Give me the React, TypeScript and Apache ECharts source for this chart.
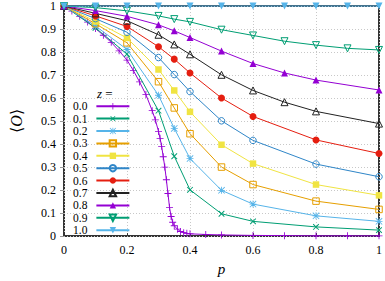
import React, { useEffect, useRef } from 'react';
import * as echarts from 'echarts';

const zLabels = ['0.0', '0.1', '0.2', '0.3', '0.4', '0.5', '0.6', '0.7', '0.8', '0.9', '1.0'];

const p00 = [0, 0.025, 0.05, 0.075, 0.1, 0.125, 0.15, 0.175, 0.2, 0.22, 0.24, 0.26, 0.28, 0.29, 0.3, 0.305, 0.31, 0.315, 0.32, 0.325, 0.33, 0.335, 0.34, 0.345, 0.35, 0.36, 0.37, 0.38, 0.39, 0.4, 0.45, 0.5, 0.6, 0.7, 0.8, 0.9, 1.0];
const v00 = [1, 0.978, 0.955, 0.93, 0.902, 0.873, 0.842, 0.805, 0.765, 0.72, 0.67, 0.615, 0.545, 0.505, 0.455, 0.425, 0.39, 0.345, 0.3, 0.245, 0.185, 0.125, 0.085, 0.06, 0.045, 0.03, 0.02, 0.015, 0.012, 0.01, 0.007, 0.005, 0.003, 0.002, 0.001, 0.001, 0.001];

const pA = [0, 0.1, 0.2, 0.3, 0.35, 0.4, 0.5, 0.6, 0.8, 1.0];
const v01 = [1, 0.905, 0.791, 0.545, 0.347, 0.201, 0.097, 0.064, 0.04, 0.026];
const v02 = [1, 0.913, 0.811, 0.612, 0.468, 0.337, 0.199, 0.139, 0.088, 0.064];
const v03 = [1, 0.923, 0.84, 0.671, 0.557, 0.445, 0.3, 0.224, 0.152, 0.116];
const v04 = [1, 0.933, 0.861, 0.724, 0.633, 0.54, 0.397, 0.315, 0.224, 0.177];
const v05 = [1, 0.945, 0.886, 0.776, 0.702, 0.628, 0.501, 0.416, 0.313, 0.258];
const v06 = [1, 0.957, 0.911, 0.823, 0.769, 0.709, 0.6, 0.52, 0.418, 0.359];

const pB = [0, 0.1, 0.2, 0.3, 0.35, 0.4, 0.5, 0.6, 0.7, 0.8, 1.0];
const v07 = [1, 0.968, 0.936, 0.875, 0.833, 0.79, 0.701, 0.633, 0.582, 0.542, 0.489];
const v08 = [1, 0.98, 0.955, 0.918, 0.892, 0.863, 0.804, 0.75, 0.709, 0.678, 0.635];

const pC = [0, 0.1, 0.2, 0.3, 0.35, 0.4, 0.5, 0.6, 0.7, 0.8, 0.9, 1.0];
const v09 = [1, 0.993, 0.979, 0.957, 0.943, 0.931, 0.897, 0.872, 0.847, 0.83, 0.816, 0.809];

const pD = [0, 0.1, 0.2, 0.3, 0.4, 0.5, 0.6, 0.7, 0.8, 0.9, 1.0];
const v10 = [1, 1, 1, 1, 1, 1, 1, 1, 1, 1, 1];

const seriesP = [p00, pA, pA, pA, pA, pA, pA, pB, pB, pC, pD];
const seriesV = [v00, v01, v02, v03, v04, v05, v06, v07, v08, v09, v10];

const colors = ['#9400d3', '#009e73', '#56b4e9', '#e69f00', '#f0e442', '#2f86c8', '#e51e10', '#222222', '#9400d3', '#009e73', '#56b4e9'];

const PLUS = 'path://M4.4,0H5.6V4.4H10V5.6H5.6V10H4.4V5.6H0V4.4H4.4Z';
const STAR = 'path://M4.4,0H5.6V4.4H10V5.6H5.6V10H4.4V5.6H0V4.4H4.4Z M0,0.85L0.85,0L10,9.15L9.15,10Z M10,0.85L0.85,10L0,9.15L9.15,0Z';

type Mk = { symbol: string; size: number; rotate: number; open: boolean };
const markers: Mk[] = [
  { symbol: PLUS, size: 7, rotate: 0, open: false },
  { symbol: PLUS, size: 8, rotate: 45, open: false },
  { symbol: STAR, size: 7, rotate: 0, open: false },
  { symbol: 'rect', size: 6.5, rotate: 0, open: true },
  { symbol: 'rect', size: 6.5, rotate: 0, open: false },
  { symbol: 'circle', size: 6.5, rotate: 0, open: true },
  { symbol: 'circle', size: 7, rotate: 0, open: false },
  { symbol: 'triangle', size: 7, rotate: 0, open: true },
  { symbol: 'triangle', size: 7, rotate: 0, open: false },
  { symbol: 'triangle', size: 7, rotate: 180, open: true },
  { symbol: 'triangle', size: 7, rotate: 180, open: false },
];

const FONT = 'Liberation Serif';

export default function App() {
  const ref = useRef<HTMLDivElement>(null);
  useEffect(() => {
    if (!ref.current) return;
    const chart = echarts.init(ref.current, null, { renderer: 'svg' });
    const series = zLabels.map((name, i) => {
      const m = markers[i];
      const c = colors[i];
      return {
        type: 'line',
        name,
        data: seriesP[i].map((p, k) => [p, seriesV[i][k]]),
        symbol: m.symbol,
        symbolSize: m.size,
        symbolRotate: m.rotate,
        showAllSymbol: true,
        clip: false,
        lineStyle: { color: c, width: 1 },
        itemStyle: m.open
          ? { color: 'rgba(255,255,255,0)', borderColor: c, borderWidth: 1 }
          : { color: c, borderWidth: 0 },
        emphasis: { disabled: true },
        z: 2 + i,
      };
    });
    chart.setOption({
      animation: false,
      grid: {
        left: 59,
        right: 5,
        top: 5,
        bottom: 41,
        show: true,
        borderColor: '#333',
        borderWidth: 2,
      },
      legend: {
        data: zLabels,
        orient: 'vertical',
        left: 73,
        top: 100,
        padding: 0,
        align: 'right',
        itemWidth: 33,
        itemHeight: 8,
        itemGap: 0,
        selectedMode: false,
        textStyle: { fontFamily: FONT, fontSize: 11.5, color: '#000', lineHeight: 12.4, padding: [0, 4, 0, 0] },
      },
      graphic: [
        {
          type: 'text',
          x: 97,
          y: 93,
          style: {
            text: '{i|z} =',
            fontFamily: FONT,
            fontSize: 13,
            fill: '#000',
            verticalAlign: 'middle',
            align: 'left',
            rich: { i: { fontStyle: 'italic', fontFamily: FONT, fontSize: 13 } },
          },
        },
      ],
      xAxis: {
        type: 'value',
        min: 0,
        max: 1,
        interval: 0.2,
        name: 'p',
        nameLocation: 'middle',
        nameGap: 23,
        nameTextStyle: { fontFamily: FONT, fontStyle: 'italic', fontSize: 15, color: '#000' },
        axisLine: { show: false },
        axisTick: { show: true, inside: true, length: 3, lineStyle: { color: '#333' } },
        axisLabel: { fontFamily: FONT, fontSize: 12, color: '#000', margin: 8 },
        splitLine: { show: true, lineStyle: { color: '#c8c8c8', type: [1, 2], width: 1 } },
      },
      yAxis: {
        type: 'value',
        min: 0,
        max: 1,
        interval: 0.1,
        name: '{n|⟨}{i|O}{n|⟩}',
        nameLocation: 'middle',
        nameGap: 40,
        nameRotate: 90,
        nameTextStyle: {
          fontFamily: FONT,
          fontSize: 16,
          color: '#000',
          rich: {
            n: { fontFamily: FONT, fontSize: 16, color: '#000' },
            i: { fontFamily: FONT, fontSize: 16, fontStyle: 'italic', color: '#000' },
          },
        },
        axisLine: { show: false },
        axisTick: { show: true, inside: false, length: 4, lineStyle: { color: '#999' } },
        axisLabel: { fontFamily: FONT, fontSize: 12, color: '#000', margin: 8 },
        splitLine: { show: true, lineStyle: { color: '#c8c8c8', type: [1, 2], width: 1 } },
      },
      series,
    });
    return () => chart.dispose();
  }, []);
  return <div ref={ref} style={{ position: 'absolute', left: 0, top: 0, width: 385, height: 281 }} />;
}
